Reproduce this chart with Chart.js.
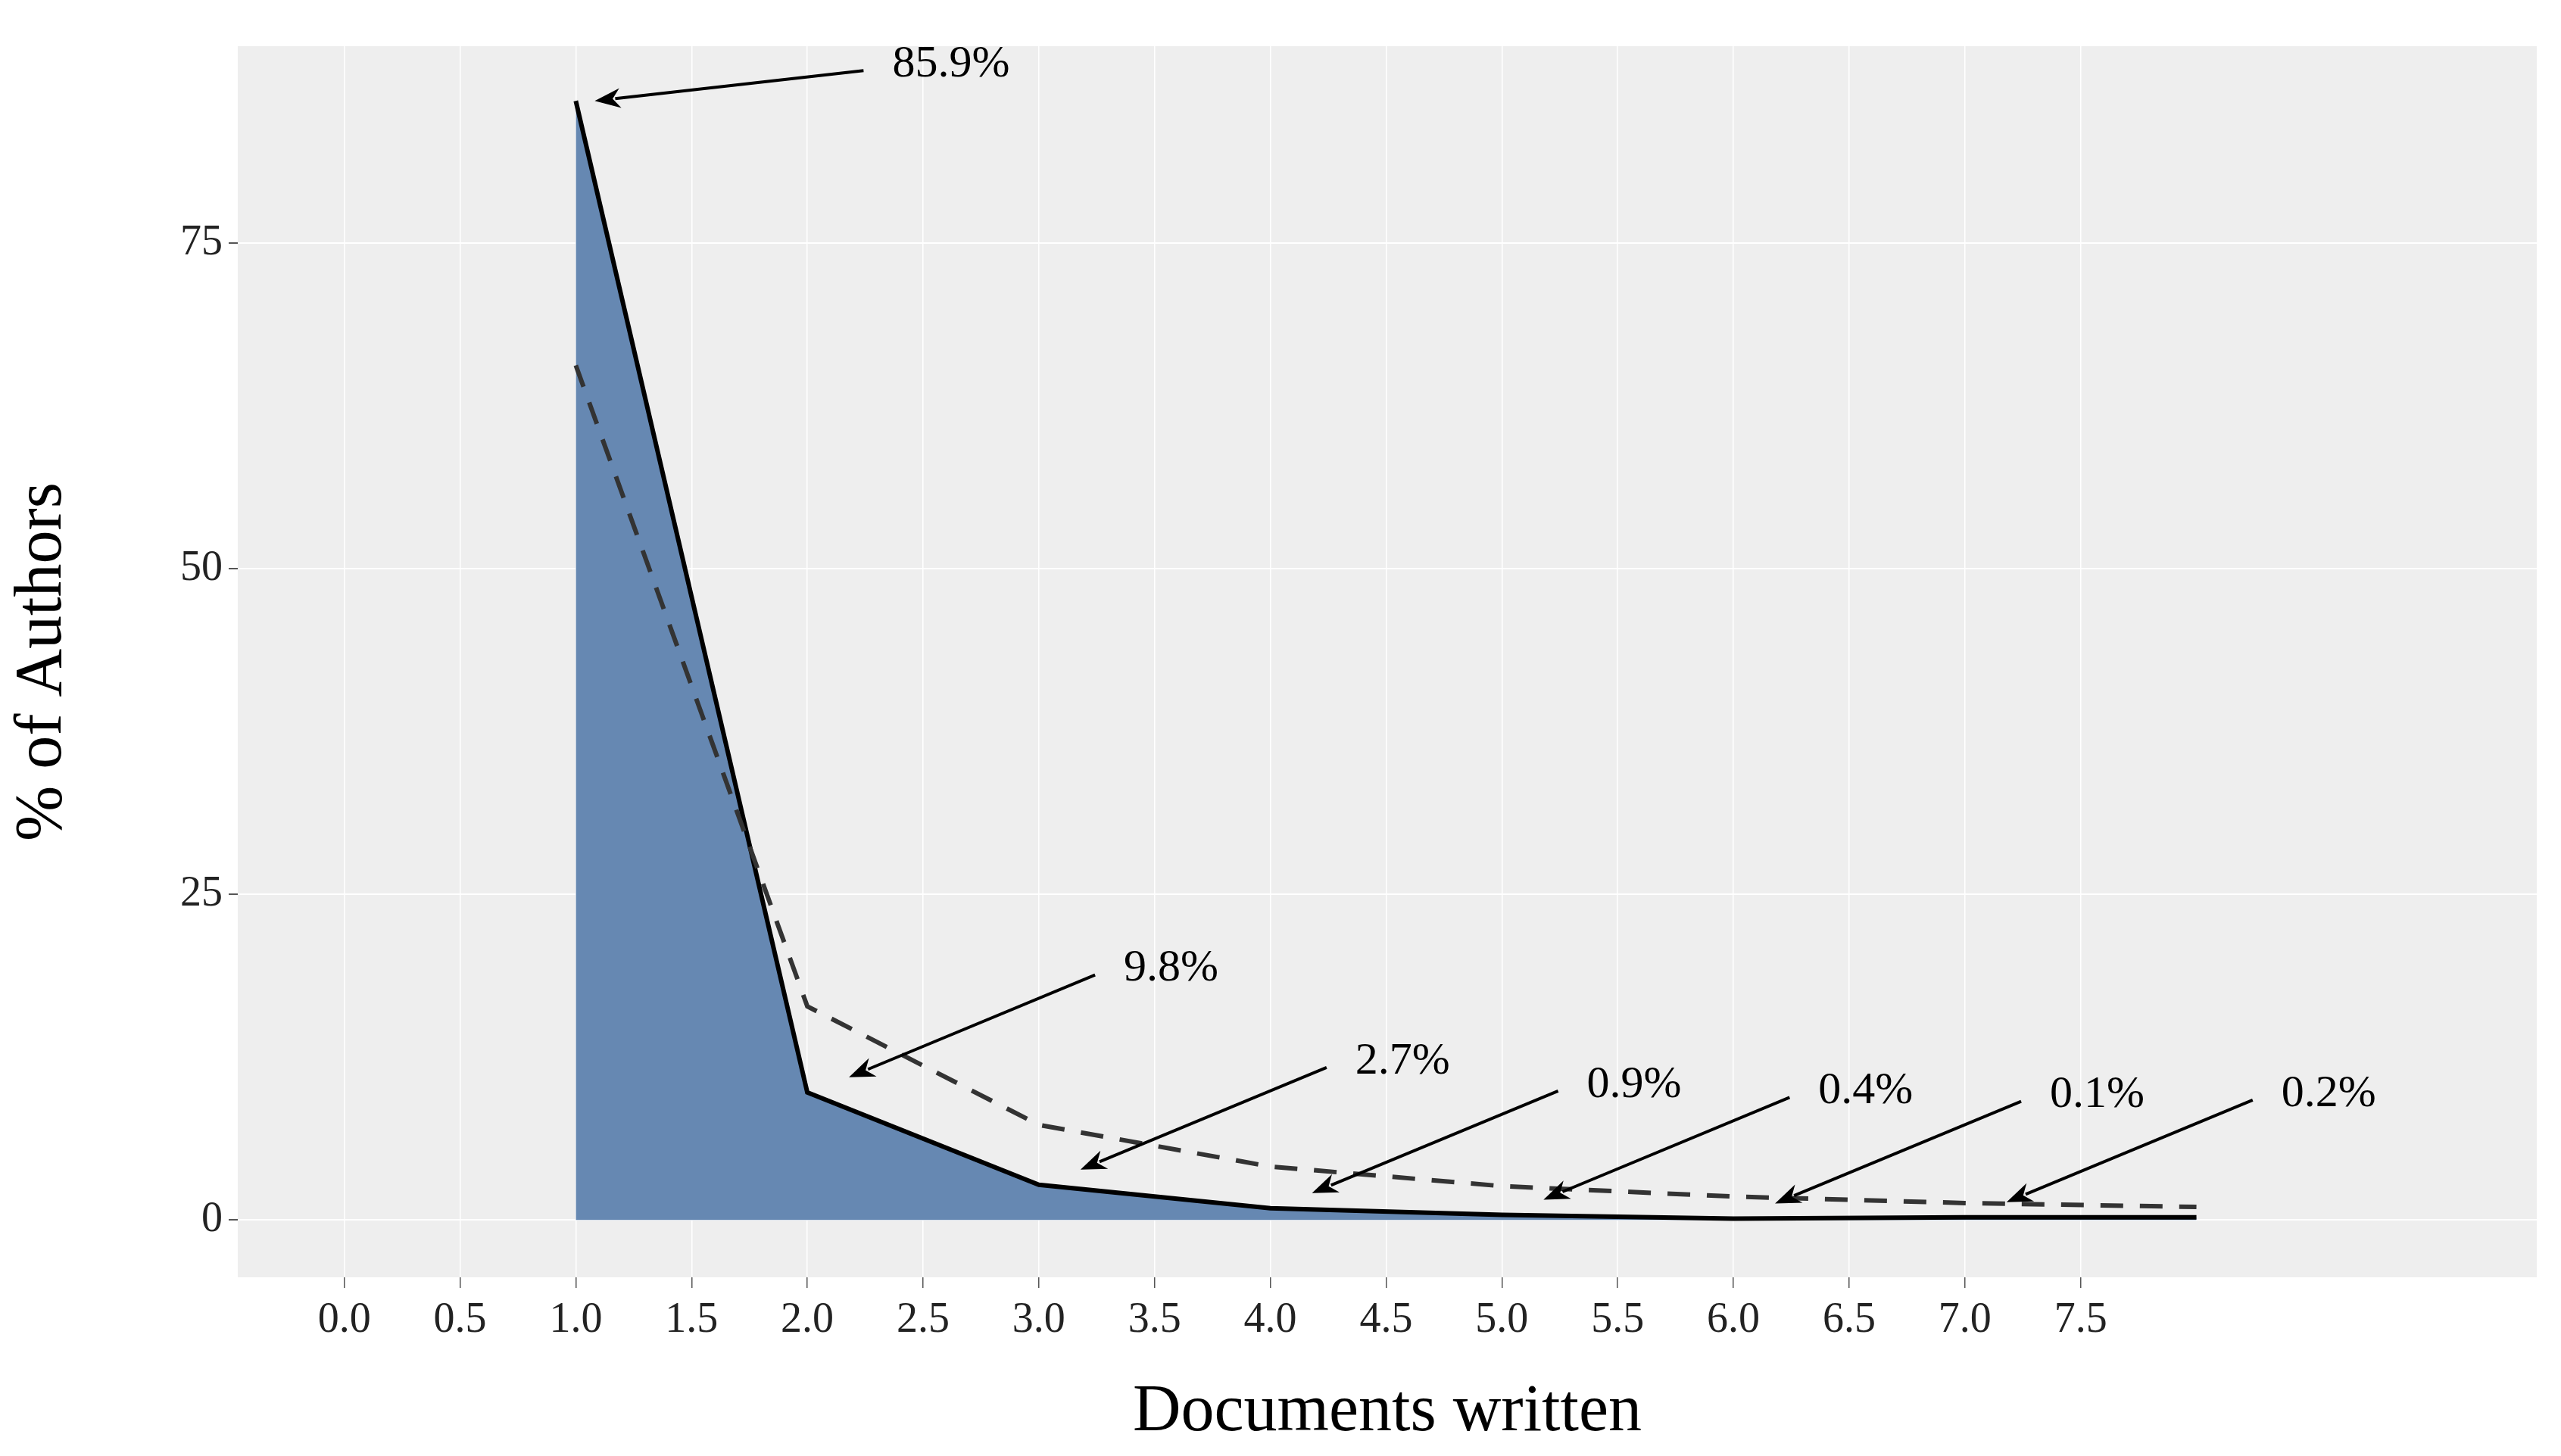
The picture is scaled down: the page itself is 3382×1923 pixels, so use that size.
<!DOCTYPE html>
<html>
<head>
<meta charset="utf-8">
<script src="https://cdn.jsdelivr.net/npm/chart.js@4/dist/chart.umd.min.js"></script>
<style>
  body { margin: 0; background: #fff; }
  canvas { display: block; }
</style>
</head>
<body>
<canvas id="authorsChart" width="3382" height="1923"></canvas>
<script>
// documents written per author
const docs = [1, 2, 3, 4, 5, 6, 7, 8];
const observed = [85.9, 9.8, 2.7, 0.9, 0.4, 0.1, 0.2, 0.2];
const expected = [65.6, 16.4, 7.3, 4.1, 2.6, 1.8, 1.3, 1.0];
// labelled points (x, value, text)
const labelDocs = [1, 2, 3, 4, 5, 6, 7];
const labelTexts = ["85.9%", "9.8%", "2.7%", "0.9%", "0.4%", "0.1%", "0.2%"];
const xTicks = [0, 0.5, 1, 1.5, 2, 2.5, 3, 3.5, 4, 4.5, 5, 5.5, 6, 6.5, 7, 7.5];
const yTicks = [0, 25, 50, 75];

const FONT = "'Liberation Serif', 'DejaVu Serif', serif";

const panelBg = {
    id: "panelBg",
    beforeDraw(chart) {
        const { ctx, chartArea: a } = chart;
        ctx.save();
        ctx.fillStyle = "#EEEEEE";
        ctx.fillRect(a.left, a.top, a.right - a.left, a.bottom - a.top);
        ctx.restore();
    },
};

function arrow(ctx, x1, y1, x2, y2) {
    const ang = Math.atan2(y2 - y1, x2 - x1);
    const len = 34, w = 13;
    ctx.beginPath();
    ctx.moveTo(x1, y1);
    ctx.lineTo(x2 - Math.cos(ang) * len * 0.8, y2 - Math.sin(ang) * len * 0.8);
    ctx.stroke();
    ctx.beginPath();
    ctx.moveTo(x2, y2);
    ctx.lineTo(x2 - Math.cos(ang) * len - Math.sin(ang) * w, y2 - Math.sin(ang) * len + Math.cos(ang) * w);
    ctx.lineTo(x2 - Math.cos(ang) * len * 0.7, y2 - Math.sin(ang) * len * 0.7);
    ctx.lineTo(x2 - Math.cos(ang) * len + Math.sin(ang) * w, y2 - Math.sin(ang) * len - Math.cos(ang) * w);
    ctx.closePath();
    ctx.fill();
}

const annotations = {
    id: "annotations",
    afterDatasetsDraw(chart) {
        const { ctx, scales } = chart;
        ctx.save();
        ctx.strokeStyle = "#000";
        ctx.fillStyle = "#000";
        ctx.lineWidth = 4;
        ctx.font = "60px " + FONT;
        ctx.textBaseline = "middle";
        labelDocs.forEach((d, i) => {
            const px = scales.x.getPixelForValue(d);
            const py = scales.y.getPixelForValue(observed[i]);
            let tipX, tipY, tailX, tailY;
            if (i === 0) {
                tipX = px + 25; tipY = py;
                tailX = px + 380; tailY = py - 40;
            } else {
                tipX = px + 55; tipY = py - 20;
                tailX = tipX + 325; tailY = tipY - 135;
            }
            arrow(ctx, tailX, tailY, tipX, tipY);
            ctx.fillText(labelTexts[i], tailX + 38, tailY - 8);
        });
        ctx.restore();
    },
};

new Chart(document.getElementById("authorsChart"), {
    type: "line",
    data: {
        datasets: [
            {
                label: "Observed",
                data: docs.map((d, i) => ({ x: d, y: observed[i] })),
                borderColor: "#000",
                borderWidth: 6,
                backgroundColor: "#6688B2",
                fill: "origin",
                pointRadius: 0,
                tension: 0,
                order: 2,
            },
            {
                label: "Expected",
                data: docs.map((d, i) => ({ x: d, y: expected[i] })),
                borderColor: "#333",
                borderWidth: 6,
                borderDash: [30, 22],
                fill: false,
                pointRadius: 0,
                tension: 0,
                order: 1,
            },
        ],
    },
    options: {
        responsive: false,
        animation: false,
        layout: { padding: { top: 61, right: 32, left: 0, bottom: 0 } },
        plugins: { legend: { display: false }, tooltip: { enabled: false } },
        scales: {
            x: {
                type: "linear",
                min: -0.46,
                max: 9.47,
                afterBuildTicks: (axis) => { axis.ticks = xTicks.map((v) => ({ value: v })); },
                afterFit: (axis) => { axis.height = 236; },
                border: { display: false },
                grid: { color: "#FFFFFF", lineWidth: 1.5, tickColor: "#555", tickLength: 14 },
                ticks: {
                    color: "#222",
                    font: { family: FONT, size: 56 },
                    maxRotation: 0,
                    padding: 10,
                    callback: (v) => Number(v).toFixed(1),
                },
                title: {
                    display: true,
                    text: "Documents written",
                    color: "#000",
                    font: { family: FONT, size: 88 },
                    padding: { top: 10 },
                },
            },
            y: {
                min: -4.4,
                max: 90.1,
                afterBuildTicks: (axis) => { axis.ticks = yTicks.map((v) => ({ value: v })); },
                afterFit: (axis) => { axis.width = 314; },
                border: { display: false },
                grid: { color: "#FFFFFF", lineWidth: 2, tickColor: "#555", tickLength: 12 },
                ticks: {
                    color: "#222",
                    font: { family: FONT, size: 56 },
                    padding: 8,
                },
                title: {
                    display: true,
                    text: "% of Authors",
                    color: "#000",
                    font: { family: FONT, size: 88 },
                    padding: { bottom: 20 },
                },
            },
        },
    },
    plugins: [panelBg, annotations],
});
</script>
</body>
</html>
